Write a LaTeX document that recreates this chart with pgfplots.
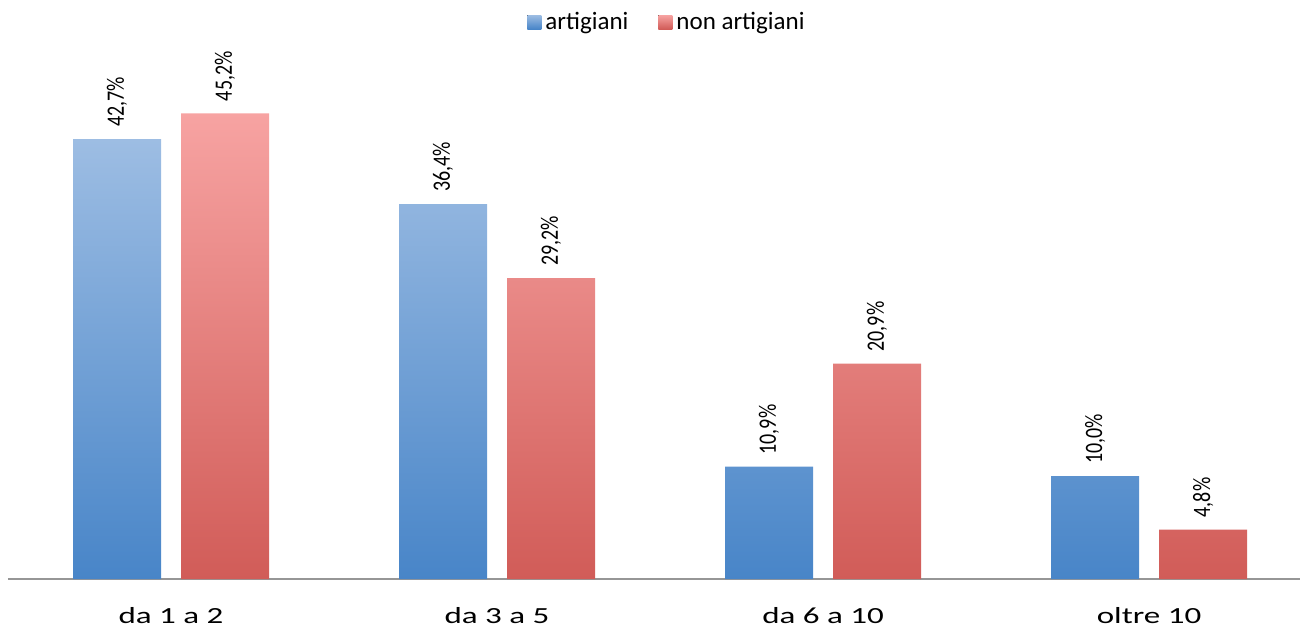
\documentclass[border=0pt]{standalone}
\usepackage{pgfplots}
\pgfplotsset{compat=1.18}
\usepackage{graphicx}
\usepackage{fontspec}
\setmainfont{Carlito}
\definecolor{btop}{RGB}{157,189,227}
\definecolor{bbot}{RGB}{72,133,200}
\definecolor{rtop}{RGB}{247,163,162}
\definecolor{rbot}{RGB}{209,92,88}
\definecolor{axgray}{RGB}{150,150,150}
\newcommand\cl[1]{\scalebox{1}[0.7]{#1}}
\begin{document}
\begin{tikzpicture}
\useasboundingbox (0,0) rectangle (650pt,313.5pt);
\begin{axis}[
  at={(4pt,24pt)}, anchor=south west,
  scale only axis, width=646pt, height=264.5pt,
  xmin=-0.5, xmax=3.463, ymin=0, ymax=51.36,
  ybar=10pt, bar width=44pt,
  axis y line=none, axis x line*=bottom,
  x axis line style={-, draw=axgray, line width=0.9pt},
  xtick={0,1,2,3},
  xticklabels={\cl{da 1 a 2},\cl{da 3 a 5},\cl{da 6 a 10},\cl{oltre 10}},
  xtick style={draw=none},
  xticklabel style={anchor=base, yshift=-18pt, inner ysep=0pt, font=\fontsize{16.5}{18}\selectfont},
  /pgf/number format/assume math mode=true,
  nodes near coords={\scalebox{0.8}[1]{\pgfmathprintnumber[fixed,fixed zerofill,precision=1,use comma,assume math mode=true]{\pgfplotspointmeta}\%}},
  nodes near coords style={rotate=90, anchor=west, inner xsep=6pt, inner ysep=0pt, font=\fontsize{12.5}{14}\selectfont, text=black},
  legend columns=2,
  legend style={at={(0.5,1)}, anchor=center, yshift=14pt, xshift=7pt, draw=none, fill=none,
    font=\fontsize{12.5}{14}\selectfont,
    /tikz/every even column/.append style={column sep=13pt}},
  legend cell align=left,
  clip=false,
]
\addplot[draw=none, top color=btop, bottom color=bbot,
  legend image code/.code={\fill[top color=btop, bottom color=bbot] (0pt,-3.5pt) rectangle (7pt,3.5pt);}]
  coordinates {(0,42.7) (1,36.4) (2,10.9) (3,10.0)};
\addlegendentry{artigiani}
\addplot[draw=none, top color=rtop, bottom color=rbot,
  legend image code/.code={\fill[top color=rtop, bottom color=rbot] (0pt,-3.5pt) rectangle (7pt,3.5pt);}]
  coordinates {(0,45.2) (1,29.2) (2,20.9) (3,4.8)};
\addlegendentry{non artigiani}
\end{axis}
\end{tikzpicture}
\end{document}
